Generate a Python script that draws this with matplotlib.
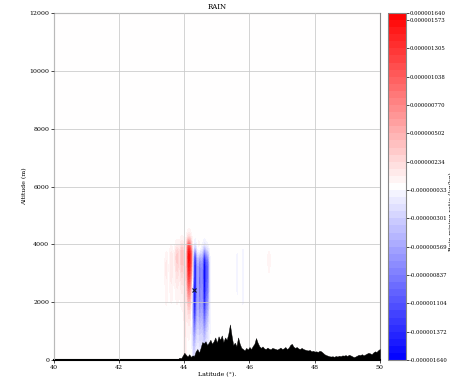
import numpy as np
import matplotlib
matplotlib.use("Agg")
import matplotlib.pyplot as plt

plt.rcParams['font.family'] = 'DejaVu Serif'

# limites de la coupe
lat_min, lat_max = 40.0, 50.0
alt_max = 12000

# panaches de pluie (lat centre, largeur, base, sommet, amplitude relative)
plume_lat = [44.14, 44.21, 44.02, 43.93, 43.78, 43.60, 43.45, 44.45, 46.60,
             44.33, 44.47, 44.62, 44.73, 44.28, 45.62, 45.80, 44.55]
plume_width = [0.04, 0.03, 0.025, 0.045, 0.045, 0.035, 0.03, 0.035, 0.04,
               0.045, 0.035, 0.05, 0.035, 0.035, 0.035, 0.035, 0.14]
plume_bottom = [2400, 3000, 0, 3000, 3100, 2700, 2400, 3600, 3500,
                1300, 1500, 1400, 1800, 300, 2500, 2300, 400]
plume_top = [4050, 3850, 3500, 3950, 3850, 3750, 3600, 3950, 3700,
             3750, 3650, 3750, 3650, 2600, 3650, 3750, 3500]
plume_amp = [1.0, 0.6, 0.12, 0.35, 0.3, 0.13, 0.09, 0.22, 0.08,
             -0.95, -0.55, -0.9, -0.5, -0.3, -0.08, -0.1, -0.15]

rain_max = 1.64e-6
cbar_ticks = [-1.640e-6, -1.372e-6, -1.104e-6, -0.837e-6, -0.569e-6, -0.301e-6,
              -0.033e-6, 0.234e-6, 0.502e-6, 0.770e-6, 1.038e-6, 1.305e-6,
              1.573e-6, 1.640e-6]

# relief (m), tous les 0.05 deg a partir de 43.75
terrain_start = 43.75
terrain = [0, 30, 80, 60, 150, 250, 180, 120, 200, 110,
           160, 140, 300, 380, 250, 420, 620, 580, 650, 520,
           600, 700, 560, 650, 780, 600, 820, 700, 850, 620,
           780, 700, 900, 1230, 850, 520, 600, 480, 780, 560,
           420, 380, 330, 420, 360, 450, 380, 480, 560, 760,
           600, 480, 420, 470, 400, 380, 430, 390, 370, 420,
           400, 380, 360, 390, 430, 380, 400, 450, 380, 420,
           520, 560, 460, 420, 450, 400, 380, 420, 380, 360,
           340, 330, 350, 300, 320, 290, 300, 280, 320, 300,
           250, 200, 170, 150, 130, 120, 130, 110, 140, 120,
           150, 130, 160, 150, 170, 140, 180, 160, 130, 100,
           120, 150, 180, 170, 200, 160, 190, 220, 250, 230,
           200, 260, 300, 280, 340, 380]

marker_lat, marker_alt = 44.3, 2420

# champ de pluie
lat = np.linspace(lat_min, lat_max, 501)
alt = np.linspace(0, alt_max, 481)
LAT, ALT = np.meshgrid(lat, alt)
rain = np.zeros_like(LAT)
for c, w, b, t, a in zip(plume_lat, plume_width, plume_bottom, plume_top, plume_amp):
    horiz = np.exp(-0.5 * ((LAT - c) / w) ** 2)
    vert = 1 / (1 + np.exp(-(t - ALT) / 130)) * 1 / (1 + np.exp(-(ALT - b) / 450))
    rain += a * rain_max * horiz * vert
rain = np.clip(rain, -rain_max, rain_max)

fig = plt.figure(figsize=(4.5, 3.78), dpi=100)
ax = fig.add_axes([0.12, 0.0476, 0.724, 0.918])
cax = fig.add_axes([0.862, 0.0476, 0.040, 0.918])

levels = np.linspace(-rain_max, rain_max, 50)
cf = ax.contourf(LAT, ALT, rain, levels=levels, cmap='bwr', zorder=1)

t_lat = terrain_start + 0.05 * np.arange(len(terrain))
ax.fill_between(t_lat, 0, terrain, color='black', lw=0.3, zorder=3)
ax.plot(marker_lat, marker_alt, 'x', color='#111133', ms=3, mew=0.8, zorder=4)

ax.set_xlim(lat_min, lat_max)
ax.set_ylim(0, alt_max)
ax.set_xticks([40, 42, 44, 46, 48, 50])
ax.set_yticks([0, 2000, 4000, 6000, 8000, 10000, 12000])
ax.grid(True, color='#c8c8c8', lw=0.7, alpha=0.8, zorder=0)
ax.set_axisbelow(False)
ax.tick_params(labelsize=4.5, length=2, width=0.5, pad=1.5)
for s in ['top', 'right', 'left']:
    ax.spines[s].set_color('#888888')
ax.spines['bottom'].set_color('black')
ax.spines['bottom'].set_linewidth(1.5)

ax.set_title('RAIN', fontsize=5, pad=3)
ax.set_xlabel('Latitude (°).', fontsize=4.5, labelpad=1.5)
ax.set_ylabel('Altitude (m)', fontsize=4.5, labelpad=1.5)

cb = fig.colorbar(cf, cax=cax, ticks=cbar_ticks)
cb.ax.set_yticklabels(['%.9f' % v for v in cbar_ticks])
cb.ax.tick_params(labelsize=3.9, length=2, width=0.5, pad=1)
cb.outline.set_edgecolor('#888888')
fig.text(1.004, 0.44, 'Rain mixing ratio (kg/kg)', rotation=90,
         ha='center', va='center', fontsize=4.5)

fig.savefig('out.png', dpi=100)
